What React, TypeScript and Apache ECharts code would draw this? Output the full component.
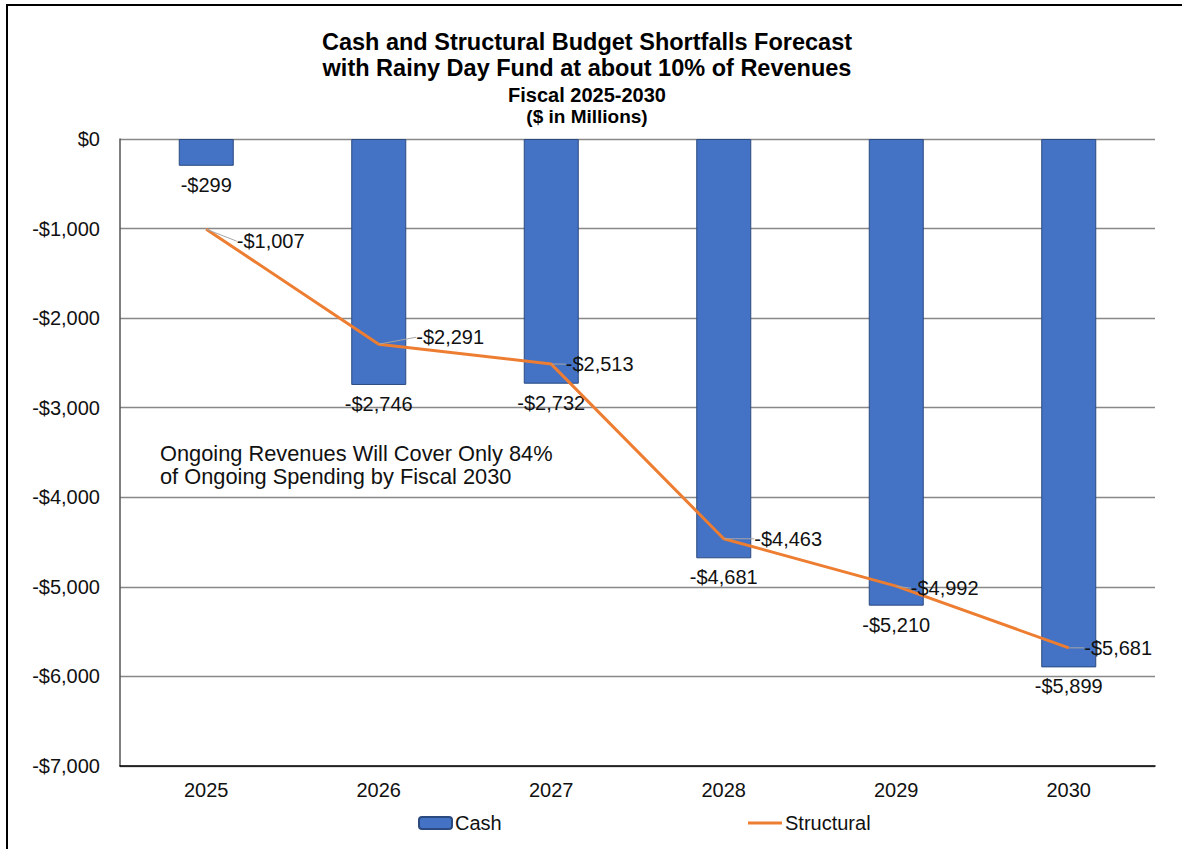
import React, { useEffect, useRef } from "react";
import * as echarts from "echarts";

const categories = ["2025", "2026", "2027", "2028", "2029", "2030"];
const cashValues = [-299, -2746, -2732, -4681, -5210, -5899];
const structuralValues = [-1007, -2291, -2513, -4463, -4992, -5681];
const titleLines = [
  "Cash and Structural Budget Shortfalls Forecast",
  "with Rainy Day Fund at about 10% of Revenues",
  "Fiscal 2025-2030",
  "($ in Millions)",
];
const noteLines = ["Ongoing Revenues Will Cover Only 84%", "of Ongoing Spending by Fiscal 2030"];
// label offsets for structural labels (dx, dy) relative to the point
const structLabelShift = [
  [30, 12],
  [37, -7],
  [14, 0],
  [30, 0],
  [14, 2],
  [15, 0],
];

const FONT = "'Liberation Sans', Arial, Helvetica, sans-serif";

function money(v: number): string {
  const a = Math.abs(v).toLocaleString("en-US");
  return v < 0 ? "-$" + a : "$" + a;
}

export default function App() {
  const ref = useRef<HTMLDivElement>(null);
  useEffect(() => {
    if (!ref.current) return;
    const chart = echarts.init(ref.current, null, { renderer: "svg" });
    chart.setOption({
      animation: false,
      backgroundColor: "#fff",
      textStyle: { fontFamily: FONT },
      graphic: [
        {
          type: "rect",
          shape: { x: 7, y: 5, width: 1400, height: 1000 },
          style: { fill: "none", stroke: "#000", lineWidth: 2 },
          silent: true,
        },
        { type: "text", x: 587, y: 42, style: { text: titleLines[0], font: `bold 23.5px ${FONT}`, fill: "#000", align: "center", verticalAlign: "middle" } },
        { type: "text", x: 587, y: 68, style: { text: titleLines[1], font: `bold 23.5px ${FONT}`, fill: "#000", align: "center", verticalAlign: "middle" } },
        { type: "text", x: 587, y: 95, style: { text: titleLines[2], font: `bold 20px ${FONT}`, fill: "#000", align: "center", verticalAlign: "middle" } },
        { type: "text", x: 587, y: 116, style: { text: titleLines[3], font: `bold 19px ${FONT}`, fill: "#000", align: "center", verticalAlign: "middle" } },
        { type: "text", x: 160, y: 453, style: { text: noteLines[0], font: `21.8px ${FONT}`, fill: "#111", align: "left", verticalAlign: "middle" } },
        { type: "text", x: 160, y: 476, style: { text: noteLines[1], font: `21.8px ${FONT}`, fill: "#111", align: "left", verticalAlign: "middle" } },
      ],
      grid: { left: 120, right: 27, top: 139, bottom: 83, containLabel: false },
      legend: [
        {
          data: ["Cash"],
          left: 418,
          top: 813,
          padding: 0,
          itemWidth: 33,
          itemHeight: 12,
          itemGap: 0,
          textStyle: { fontSize: 20, color: "#111", fontFamily: FONT, padding: [0, 0, 0, -2] },
        },
        {
          data: [{ name: "Structural", icon: "rect" }],
          left: 748,
          top: 813,
          padding: 0,
          itemWidth: 34,
          itemHeight: 3,
          textStyle: { fontSize: 20, color: "#111", fontFamily: FONT, padding: [0, 0, 0, -2] },
        },
      ],
      xAxis: {
        type: "category",
        data: categories,
        boundaryGap: true,
        axisLine: { onZero: false, lineStyle: { color: "#000", width: 1.5 } },
        axisTick: { show: false },
        axisLabel: { fontSize: 20, color: "#111", margin: 14, fontFamily: FONT },
      },
      yAxis: {
        type: "value",
        min: -7000,
        max: 0,
        interval: 1000,
        axisLine: { show: true, lineStyle: { color: "#555", width: 1.5 } },
        axisTick: { show: false },
        splitLine: { lineStyle: { color: "#888", width: 1.3 } },
        axisLabel: { fontSize: 20, color: "#111", margin: 20, formatter: (v: number) => money(v), fontFamily: FONT },
      },
      series: [
        {
          name: "Cash",
          type: "bar",
          data: cashValues,
          barWidth: 55,
          itemStyle: { color: "#4472C4", borderColor: "#2B4A80", borderWidth: 1 },
          label: {
            show: true,
            position: "bottom",
            distance: 9,
            fontSize: 20,
            color: "#111",
            fontFamily: FONT,
            formatter: (p: any) => money(p.value),
          },
          z: 2,
        },
        {
          name: "Structural",
          type: "line",
          data: structuralValues,
          symbol: "circle",
          symbolSize: 1,
          showSymbol: true,
          itemStyle: { color: "#ED7D31" },
          lineStyle: { color: "#ED7D31", width: 3 },
          label: {
            show: true,
            position: "right",
            distance: 0,
            fontSize: 20,
            color: "#111",
            fontFamily: FONT,
            formatter: (p: any) => money(p.value),
          },
          labelLine: { show: true, lineStyle: { color: "#A6A6A6", width: 1 } },
          labelLayout: (params: any) => {
            const s = structLabelShift[params.dataIndex] || [0, 0];
            return { dx: s[0], dy: s[1] };
          },
          z: 3,
        },
      ],
    });
    return () => chart.dispose();
  }, []);
  return (
    <div
      ref={ref}
      style={{ position: "fixed", left: 0, top: 0, width: 1182, height: 849, background: "#fff" }}
    />
  );
}
